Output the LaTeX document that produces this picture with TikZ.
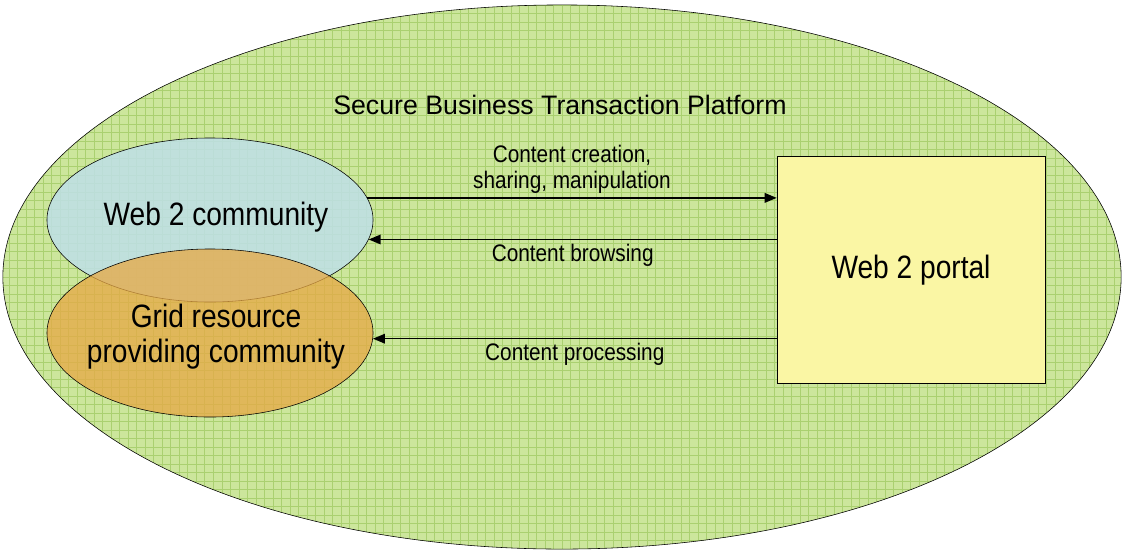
\documentclass[tikz,border=0pt]{standalone}
\usepackage{fontspec}
\setmainfont{Liberation Sans}
\newfontfamily\narrowfont[FakeStretch=0.87]{Liberation Sans}
\usetikzlibrary{shapes.geometric,positioning,arrows.meta}

\definecolor{platgreen}{RGB}{204,230,156}
\definecolor{gridgreen}{RGB}{170,208,112}
\definecolor{commblue}{RGB}{190,224,232}
\definecolor{gridorange}{RGB}{232,168,68}
\definecolor{portalyellow}{RGB}{250,246,164}

\tikzset{
  community/.style={ellipse, draw, inner sep=0pt, minimum width=8.15cm,
    minimum height=4.1cm, fill opacity=0.85},
  commtext/.style={align=center, font=\narrowfont\fontsize{23}{25}\selectfont},
  flow/.style={-{Triangle[length=3mm,width=2.4mm]}, line width=1pt},
  flowlabel/.style={font=\narrowfont\fontsize{17}{18}\selectfont, align=center, inner sep=3pt}
}

\begin{document}
\begin{tikzpicture}[x=0.025cm,y=-0.025cm]
\useasboundingbox (0,0) rectangle (1124,554);
\node[ellipse, draw, fill=platgreen, inner sep=0pt, minimum width=27.95cm,
  minimum height=13.6cm,
  path picture={\draw[gridgreen, line width=0.6pt]
    (path picture bounding box.south west) grid[step=0.2125cm]
    (path picture bounding box.north east);}] (platform) at (562,277) {};
\node[font=\fontsize{19}{22}\selectfont] (title) at (560,105)
  {Secure Business Transaction Platform};

% the two communities
\node[community, fill=commblue] (web) at (210,220) {};
\node[community, fill=gridorange, fill opacity=0.75, minimum height=4.2cm]
  (grid) at (210,333) {};
\node[commtext] (webtext) at (216,217) {Web 2 community};
\node[commtext] (gridtext) at (216,337) {Grid resource\\providing community};

% the portal
\node[draw, fill=portalyellow, minimum width=6.7cm, minimum height=5.675cm,
  font=\narrowfont\fontsize{23}{25}\selectfont] (portal) at (911,270) {Web 2 portal};

% flows
\draw[flow] (web.8) -- node[flowlabel, above] {Content creation,\\sharing, manipulation}
  (web.8 -| portal.west);
\draw[flow] (web.-7.2 -| portal.west) -- node[flowlabel, below] {Content browsing}
  (web.-7.2);
\draw[flow] (grid.-2.5 -| portal.west) -- node[flowlabel, below] {Content processing}
  (grid.-2.5);
\end{tikzpicture}
\end{document}
